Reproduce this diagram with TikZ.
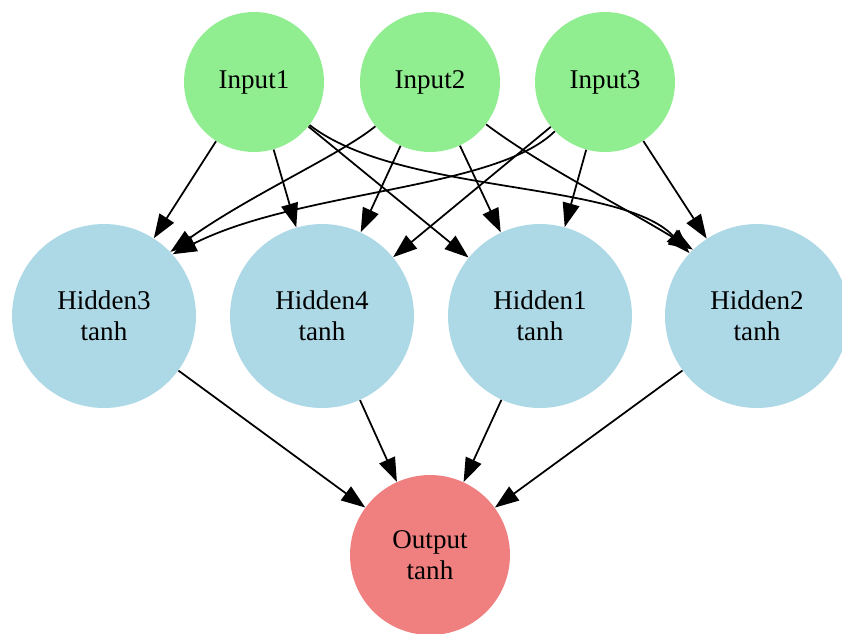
\documentclass[tikz,border=0pt]{standalone}
\usepackage{fontspec}
\setmainfont{Liberation Serif}
\usetikzlibrary{arrows.meta,positioning}

\definecolor{inputgreen}{HTML}{90EE90}
\definecolor{hiddenblue}{HTML}{ADD8E6}
\definecolor{outputred}{HTML}{F08080}

\begin{document}
\begin{tikzpicture}[x=0.02cm,y=-0.02cm]
        \tikzstyle{every node}=[font=\fontsize{15.4}{17.5}\selectfont,align=center]
        \tikzstyle{neuron}=[circle,inner sep=0pt]
        \tikzstyle{inp}=[neuron,fill=inputgreen,minimum size=2.8cm]
        \tikzstyle{hid}=[neuron,fill=hiddenblue,minimum size=3.68cm]
        \tikzstyle{outp}=[neuron,fill=outputred,minimum size=3.2cm]
        \tikzstyle{conn}=[-{Triangle[length=0.48cm,width=0.34cm]},line width=1pt]
        \useasboundingbox (0,0) rectangle (842,633);

        %%% Inputs
        \node[inp] (in1) at (254,82) {Input1};
        \node[inp] (in2) at (430,82) {Input2};
        \node[inp] (in3) at (605,82) {Input3};

        %%% Hidden layer
        \node[hid] (h3) at (104,316) {Hidden3\\tanh};
        \node[hid] (h4) at (322,316) {Hidden4\\tanh};
        \node[hid] (h1) at (540,316) {Hidden1\\tanh};
        \node[hid] (h2) at (757,316) {Hidden2\\tanh};

        %%% Output
        \node[outp] (out) at (430,555) {Output\\tanh};

        \draw[conn] (in1) edge (h3);
        \draw[conn] (in1) edge (h4);
        \draw[conn] (in1) edge (h1);
        \draw[conn] (in1) .. controls (400,195) and (620,180) .. (h2.137);

        \draw[conn] (in2) .. controls (340,155) and (250,195) .. (h3.44);
        \draw[conn] (in2) edge (h4);
        \draw[conn] (in2) edge (h1);
        \draw[conn] (in2) .. controls (540,165) and (620,205) .. (h2.134);

        \draw[conn] (in3) .. controls (495,190) and (300,190) .. (h3.42);
        \draw[conn] (in3) edge (h4);
        \draw[conn] (in3) edge (h1);
        \draw[conn] (in3) edge (h2);

        \draw[conn] (h3) edge (out);
        \draw[conn] (h4) edge (out);
        \draw[conn] (h1) edge (out);
        \draw[conn] (h2) edge (out);
\end{tikzpicture}
\end{document}
